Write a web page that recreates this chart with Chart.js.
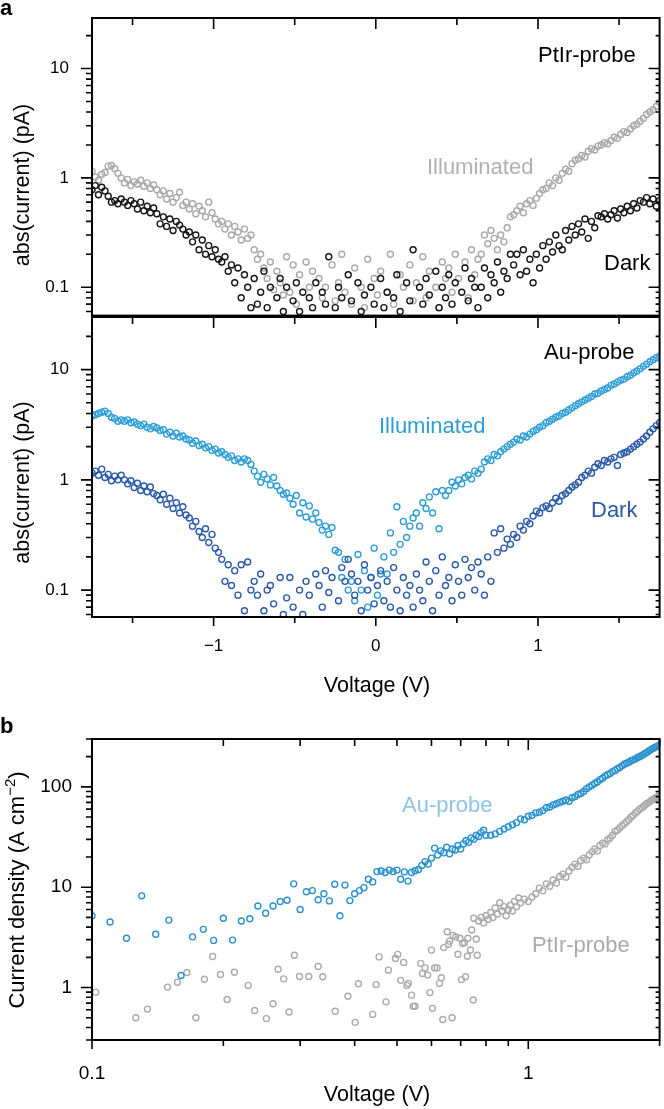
<!DOCTYPE html>
<html>
<head>
<meta charset="utf-8">
<script src="https://cdn.jsdelivr.net/npm/chart.js@4.4.1/dist/chart.umd.min.js"></script>
<style>
  html, body { margin: 0; padding: 0; background: #fff; }
  #wrap { position: relative; width: 664px; height: 1109px; overflow: hidden; }
  canvas { position: absolute; left: 0; }
</style>
</head>
<body>
<div id="wrap">
  <canvas id="panelTop" width="664" height="320" style="top:0px"></canvas>
  <canvas id="panelMid" width="664" height="400" style="top:300px"></canvas>
  <canvas id="panelB" width="664" height="409" style="top:700px"></canvas>
</div>
<script>
// ---- panel a: voltage sweep shared by both probes ----
var voltA = [
  -1.75,-1.73,-1.71,-1.69,-1.67,-1.65,-1.63,-1.61,-1.59,-1.57,
  -1.55,-1.53,-1.51,-1.49,-1.47,-1.45,-1.43,-1.41,-1.39,-1.37,
  -1.35,-1.33,-1.31,-1.29,-1.27,-1.25,-1.23,-1.21,-1.19,-1.17,
  -1.15,-1.13,-1.11,-1.09,-1.07,-1.05,-1.03,-1.01,-0.99,-0.97,
  -0.95,-0.93,-0.91,-0.89,-0.87,-0.85,-0.83,-0.81,-0.79,-0.77,
  -0.75,-0.73,-0.71,-0.69,-0.67,-0.65,-0.63,-0.61,-0.59,-0.57,
  -0.55,-0.53,-0.51,-0.49,-0.47,-0.45,-0.43,-0.41,-0.39,-0.37,
  -0.35,-0.33,-0.31,-0.29,-0.27,-0.25,-0.23,-0.21,-0.19,-0.17,
  -0.15,-0.13,-0.11,-0.09,-0.07,-0.05,-0.03,-0.01,0.01,0.03,
  0.05,0.07,0.09,0.11,0.13,0.15,0.17,0.19,0.21,0.23,
  0.25,0.27,0.29,0.31,0.33,0.35,0.37,0.39,0.41,0.43,
  0.45,0.47,0.49,0.51,0.53,0.55,0.57,0.59,0.61,0.63,
  0.65,0.67,0.69,0.71,0.73,0.75,0.77,0.79,0.81,0.83,
  0.85,0.87,0.89,0.91,0.93,0.95,0.97,0.99,1.01,1.03,
  1.05,1.07,1.09,1.11,1.13,1.15,1.17,1.19,1.21,1.23,
  1.25,1.27,1.29,1.31,1.33,1.35,1.37,1.39,1.41,1.43,
  1.45,1.47,1.49,1.51,1.53,1.55,1.57,1.59,1.61,1.63,
  1.65,1.67,1.69,1.71,1.73,1.75
];

// PtIr-probe, abs(current) in pA
var ptIllum = [
  1.15,1.02,0.95,1.08,1.12,1.28,1.3,1.22,1.1,1.0,
  0.9,0.97,0.85,0.92,0.88,0.95,0.84,0.9,0.8,0.86,
  0.78,0.7,0.76,0.64,0.72,0.6,0.66,0.74,0.56,0.6,
  0.52,0.58,0.47,0.55,0.5,0.44,0.6,0.48,0.42,0.38,
  0.4,0.34,0.38,0.3,0.36,0.32,0.27,0.34,0.28,0.3,
  0.22,0.18,0.2,0.15,0.12,0.17,0.095,0.14,0.11,0.085,
  0.19,0.09,0.16,0.07,0.13,null,0.17,0.1,0.14,null,
  0.12,0.08,0.1,null,0.16,0.075,0.11,0.2,0.09,null,
  0.07,0.15,null,0.1,0.065,0.18,null,0.12,0.085,0.14,
  null,0.09,0.2,0.07,null,0.13,0.1,null,0.16,0.075,
  0.11,null,0.19,0.08,0.14,null,0.1,0.065,0.17,0.12,
  0.15,0.09,0.2,0.12,null,0.17,0.08,0.22,0.13,0.18,
  0.2,0.3,0.25,0.33,0.28,0.22,0.3,0.26,0.35,0.44,
  0.46,0.5,0.55,0.48,0.58,0.62,0.56,0.65,0.72,0.78,
  0.8,0.9,0.85,1.0,0.95,1.1,1.2,1.15,1.35,1.45,
  1.5,1.6,1.55,1.75,1.85,1.8,1.95,2.0,2.1,2.05,
  2.2,2.35,2.3,2.5,2.65,2.6,2.8,3.0,3.1,3.3,
  3.5,3.8,4.0,4.2,4.5,4.9
];
var ptDark = [
  0.78,0.85,0.7,0.82,0.76,0.68,0.6,0.62,0.58,0.64,
  0.6,0.56,0.62,0.58,0.52,0.6,0.5,0.55,0.48,0.53,
  0.47,0.38,0.44,0.36,0.42,0.33,0.4,0.37,0.34,0.3,
  0.32,0.26,0.3,0.22,0.27,0.2,0.24,0.19,0.22,0.18,
  0.17,0.19,0.14,0.16,0.11,0.15,0.08,0.13,0.1,0.065,
  0.12,0.07,0.09,0.14,0.065,0.1,null,0.08,0.12,0.06,
  0.1,null,0.075,0.11,0.06,0.09,null,0.08,0.065,0.11,
  null,0.09,0.07,0.19,null,0.065,0.1,0.08,null,0.13,
  0.075,null,0.11,0.06,0.085,null,0.1,0.07,null,0.12,
  0.065,0.09,null,0.08,0.13,0.06,null,0.11,0.075,0.22,
  null,0.1,0.07,0.12,0.085,null,0.14,0.065,0.1,0.08,
  0.13,0.07,0.11,null,0.09,0.15,0.075,0.12,0.1,0.065,
  0.1,0.15,0.08,0.13,0.11,0.17,0.09,0.14,0.12,0.2,
  0.16,0.2,0.13,0.22,0.14,0.18,0.11,0.2,0.15,0.24,
  0.18,0.26,0.21,0.3,0.24,0.22,0.33,0.27,0.36,0.3,
  0.38,0.32,0.42,0.28,0.4,0.35,0.45,0.44,0.47,0.42,
  0.46,0.5,0.43,0.52,0.48,0.55,0.5,0.58,0.53,0.62,
  0.6,0.66,0.58,0.64,0.55,0.62
];

// Au-probe, abs(current) in pA
var auIllum = [
  3.8,3.9,4.0,4.1,4.2,4.0,3.7,3.6,3.4,3.5,
  3.4,3.5,3.3,3.35,3.2,3.1,3.2,3.0,2.9,3.05,
  2.95,2.8,2.85,2.6,2.7,2.5,2.65,2.45,2.5,2.35,
  2.3,2.15,2.25,2.05,2.1,1.95,2.0,1.85,1.9,1.75,
  1.8,1.7,1.6,1.65,1.5,1.55,1.45,1.55,1.5,1.38,
  1.2,1.08,0.95,1.12,1.02,0.9,1.05,0.88,0.8,0.74,
  0.76,0.68,0.6,0.72,0.5,0.62,0.46,0.58,0.44,0.5,
  0.41,0.35,0.38,0.32,0.37,0.23,0.22,0.13,0.19,0.1,
  0.12,0.08,0.21,0.1,0.15,0.07,0.13,0.24,0.09,0.14,
  0.2,0.14,0.33,0.22,0.57,0.26,0.42,0.3,0.38,0.45,
  0.5,0.38,0.62,0.55,0.7,0.5,0.78,0.36,0.8,0.72,
  0.8,0.95,0.88,1.0,0.92,1.05,1.1,1.02,1.2,1.15,
  1.25,1.45,1.55,1.5,1.7,1.65,1.8,1.9,2.0,2.1,
  2.2,2.35,2.3,2.5,2.45,2.6,2.75,2.85,3.0,3.1,
  3.3,3.4,3.55,3.7,3.8,4.0,4.1,4.3,4.5,4.7,
  4.9,5.1,5.3,5.5,5.7,6.0,6.1,6.4,6.6,6.8,
  7.2,7.4,7.7,8.0,8.2,8.6,8.9,9.3,9.7,10.2,
  10.7,11.2,11.8,12.3,12.8,13.2
];
var auDark = [
  1.15,1.2,1.1,1.25,1.05,1.12,0.98,1.08,1.0,1.1,
  1.0,0.92,0.98,0.85,0.93,0.8,0.88,0.78,0.86,0.75,
  0.72,0.66,0.74,0.6,0.68,0.55,0.62,0.5,0.57,0.48,
  0.45,0.38,0.42,0.34,0.3,0.36,0.27,0.32,0.24,0.22,
  0.19,0.12,0.17,0.11,0.15,0.09,0.17,0.065,0.18,0.1,
  0.12,0.09,0.14,0.065,0.1,0.11,0.075,null,0.13,0.06,
  0.085,0.13,0.07,null,0.1,0.06,0.12,0.09,null,0.14,
  0.11,0.07,0.15,0.095,0.13,null,0.08,0.16,0.12,0.19,
  0.14,0.09,0.12,0.065,0.17,0.1,0.13,0.075,0.11,0.15,
  0.08,0.12,0.07,0.16,0.1,0.065,0.13,0.09,0.11,0.07,
  0.14,0.1,0.08,0.18,0.12,0.065,0.15,0.09,0.2,0.11,
  0.13,0.08,0.17,0.12,0.09,0.19,0.13,0.16,0.1,0.18,
  0.14,0.09,0.2,0.12,0.33,0.22,0.36,0.24,0.29,0.26,
  0.32,0.3,0.38,0.35,0.42,0.4,0.47,0.52,0.5,0.56,
  0.58,0.55,0.62,0.68,0.64,0.72,0.75,0.8,0.86,0.9,
  0.95,1.05,1.1,1.2,1.15,1.3,1.4,1.35,1.5,1.45,
  1.55,1.6,1.35,1.7,1.75,1.8,1.9,2.0,2.1,2.2,
  2.35,2.5,2.7,2.9,3.1,3.3
];

// ---- panel b: current density (A cm-2) vs voltage ----
var auVoltB = [
  0.10,0.11,0.12,0.13,0.14,0.15,0.16,0.17,0.18,0.19,
  0.20,0.21,0.22,0.23,0.24,0.25,0.26,0.27,0.28,0.29,
  0.30,0.31,0.32,0.33,0.34,0.35,0.36,0.37,0.38,0.39,
  0.40,0.41,0.42,0.43,0.44,0.45,0.46,0.47,0.48,0.49,
  0.50,0.51,0.52,0.53,0.54,0.55,0.56,0.57,0.58,0.59,
  0.60,0.61,0.62,0.63,0.64,0.65,0.66,0.67,0.68,0.69,
  0.70,0.71,0.72,0.73,0.74,0.75,0.76,0.77,0.78,0.79,
  0.80,
  0.82,0.84,0.86,0.88,0.90,0.92,0.94,0.96,0.98,1.00,
  1.02,1.04,1.06,1.08,1.10,1.12,1.14,1.16,1.18,1.20,
  1.22,1.24,1.26,1.28,1.30,1.32,1.34,1.36,1.38,1.40,
  1.42,1.44,1.46,1.48,1.50,1.52,1.54,1.56,1.58,1.60,
  1.62,1.64,1.66,1.68,1.70,1.72,1.74,1.76,1.78,1.80,
  1.82,1.84,1.86,1.88,1.90,1.92,1.94,1.96,1.98,2.00
];
var auDensity = [
  5.2,4.5,3.1,8.2,3.4,4.7,1.32,3.2,3.8,2.95,
  4.9,2.97,4.6,4.85,6.5,5.5,6.5,7.2,7.4,10.8,
  6.0,9.0,9.25,7.5,8.6,7.3,10.7,5.2,10.5,7.35,
  8.6,9.25,9.9,12.0,11.3,14.3,14.5,14.0,14.8,14.3,
  14.8,12.0,14.2,11.5,14.0,14.6,15.0,16.5,18.0,17.0,
  19.5,24.5,21.0,23.0,22.0,25.0,21.5,24.0,23.5,26.0,
  24.0,27,29,28,31,30,33,32,35,37,
  33,
  33,34,36,38,40,42,44,48,47,51,
  52,55,56,58,62,63,66,68,70,72,
  74,72,78,80,84,86,90,96,100,104,
  108,112,118,122,128,132,136,142,146,152,
  156,162,168,172,176,182,186,190,196,200,
  206,212,218,224,232,238,244,250,256,262
];
var ptVoltB = [
  0.102,0.126,0.134,0.149,0.157,0.165,0.173,0.181,0.189,0.197,
  0.204,0.212,0.228,0.236,0.251,0.260,0.267,0.275,0.283,0.291,
  0.299,0.314,0.330,0.338,0.361,0.386,0.401,0.408,0.440,0.448,
  0.455,0.472,0.478,0.496,0.502,0.510,0.518,0.527,0.531,0.540,
  0.545,0.550,0.567,0.572,0.580,0.588,0.595,0.600,0.603,0.610,
  0.618,0.626,0.632,0.637,0.640,0.652,0.656,0.660,0.669,0.672,
  0.682,0.690,0.697,0.703,0.707,0.714,0.718,0.725,0.727,0.737,
  0.742,0.748,0.750,0.760,0.764,
  0.77,0.78,0.79,0.80,0.81,0.82,0.83,0.84,0.85,0.86,
  0.87,0.88,0.89,0.90,0.91,0.92,0.93,0.94,0.95,0.96,
  0.98,1.00,1.02,1.04,1.06,1.08,1.10,1.12,1.14,1.16,
  1.18,1.20,1.22,1.24,1.26,1.28,1.30,1.32,1.34,1.36,
  1.38,1.40,1.42,1.44,1.46,1.48,1.50,1.52,1.54,1.56,
  1.58,1.60,1.62,1.64,1.66,1.68,1.70,1.72,1.74,1.76,
  1.78,1.80,1.82,1.84,1.86,1.88,1.90,1.92,1.94,1.96,
  1.98,2.00
];
var ptDensity = [
  0.90,0.50,0.61,1.01,1.13,1.41,0.50,1.21,2.04,1.35,
  0.76,1.42,1.05,0.59,0.49,0.69,1.52,1.22,0.57,2.10,
  1.29,1.29,1.62,1.28,0.58,0.82,0.45,1.09,0.54,1.07,
  2.02,0.72,1.49,1.95,2.14,1.18,1.78,1.05,1.10,0.84,
  0.65,0.65,1.74,1.38,1.57,1.33,0.89,2.36,0.62,1.57,
  1.57,1.10,1.25,0.48,2.50,3.60,2.70,2.90,0.50,3.30,
  3.20,2.15,3.10,1.20,2.75,2.80,1.28,2.05,3.10,2.37,
  3.75,0.75,4.90,3.05,2.10,
  4.6,5.0,4.4,5.2,4.8,5.6,5.0,6.2,5.4,7.0,
  5.8,6.4,5.2,6.0,6.6,5.8,7.2,6.4,7.8,7.0,
  7.6,7.2,8.0,8.6,9.8,9.2,10.8,10.2,11.8,11.0,
  12.8,13.5,12.6,14.5,15.8,17.0,16.2,18.5,19.5,18.8,
  21.0,22.5,24.0,23.0,26.0,27.5,27.0,29.5,31.0,33.0,
  36.0,37.0,39.0,41.0,43.0,45.0,47.0,50.0,52.0,55.0,
  57,60,62,64,67,69,71,74,76,78,
  80,84
];

// tick values
var xMajorA = [-1, 0, 1];
var xMinorA = [-1.5, -0.5, 0.5, 1.5];
var yMajorA = [0.1, 1, 10];
var yMinorA = [0.06, 0.07, 0.08, 0.09, 0.2, 0.3, 0.4, 0.5, 0.6, 0.7, 0.8, 0.9, 2, 3, 4, 5, 6, 7, 8, 9, 20];
var xMajorB = [0.1, 1];
var xMinorB = [0.2, 0.3, 0.4, 0.5, 0.6, 0.7, 0.8, 0.9, 2];
var yMajorB = [1, 10, 100];
var yMinorB = [0.3, 0.4, 0.5, 0.6, 0.7, 0.8, 0.9, 2, 3, 4, 5, 6, 7, 8, 9, 20, 30, 40, 50, 60, 70, 80, 90, 200, 300];

var FONT = "'Liberation Sans', Arial, Helvetica, sans-serif";
Chart.defaults.font.family = FONT;

function toPoints(xs, ys) {
  return xs.map(function (v, i) { return { x: v, y: ys[i] }; });
}

function series(xs, ys, color) {
  return {
    data: toPoints(xs, ys),
    borderColor: color,
    backgroundColor: 'rgba(0,0,0,0)',
    pointRadius: 3,
    pointHoverRadius: 3,
    pointBorderWidth: 1.4,
    showLine: false,
    clip: 0
  };
}

// frame, ticks (inward on top/right, outward on left/bottom) and the text labels
var framePlugin = {
  id: 'frame',
  afterDatasetsDraw: function (chart, args, o) {
    var ctx = chart.ctx, a = chart.chartArea;
    var xs = chart.scales.x, ys = chart.scales.y;
    ctx.save();
    ctx.strokeStyle = '#000';
    ctx.lineWidth = 1.6;
    ctx.beginPath();
    function seg(x1, y1, x2, y2) { ctx.moveTo(x1, y1); ctx.lineTo(x2, y2); }
    function xTicks(vals, topLen, botLen) {
      vals.forEach(function (v) {
        var p = xs.getPixelForValue(v);
        if (topLen) seg(p, a.top, p, a.top + topLen);
        if (botLen) seg(p, a.bottom, p, a.bottom + botLen);
      });
    }
    function yTicks(vals, leftLen, rightLen) {
      vals.forEach(function (v) {
        var p = ys.getPixelForValue(v);
        if (p < a.top - 0.5 || p > a.bottom + 0.5) return;
        seg(a.left - leftLen, p, a.left, p);
        seg(a.right - rightLen, p, a.right, p);
      });
    }
    xTicks(o.xMajor, 11, o.bottomOut ? 9 : 0);
    xTicks(o.xMinor, 7, o.bottomOut ? 6 : 0);
    yTicks(o.yMajor, 11, 11);
    yTicks(o.yMinor, 6, 4);
    ctx.stroke();
    ctx.lineWidth = 2;
    ctx.strokeRect(a.left, a.top, a.right - a.left, a.bottom - a.top);

    o.texts.forEach(function (t) {
      ctx.save();
      ctx.fillStyle = t.color || '#000';
      ctx.textBaseline = 'alphabetic';
      ctx.translate(t.x, t.y);
      if (t.rotate) ctx.rotate(-Math.PI / 2);
      var parts = t.parts || [{ text: t.text, size: t.size }];
      var widths = parts.map(function (p) {
        ctx.font = (t.weight || 'normal') + ' ' + p.size + 'px ' + FONT;
        return ctx.measureText(p.text).width;
      });
      var total = widths.reduce(function (s, w) { return s + w; }, 0);
      var x0 = t.align === 'center' ? -total / 2 : 0;
      ctx.textAlign = 'left';
      parts.forEach(function (p, i) {
        ctx.font = (t.weight || 'normal') + ' ' + p.size + 'px ' + FONT;
        ctx.fillText(p.text, x0, -(p.rise || 0));
        x0 += widths[i];
      });
      ctx.restore();
    });
    ctx.restore();
  }
};

function yAxis(min, max, majors, size, pad) {
  return {
    type: 'logarithmic', position: 'left', min: min, max: max,
    afterFit: function (s) { s.width = 92; s.paddingTop = 0; s.paddingBottom = 0; },
    afterBuildTicks: function (s) { s.ticks = majors.map(function (v) { return { value: v }; }); },
    grid: { display: false, drawTicks: false },
    border: { display: false },
    ticks: { autoSkip: false, padding: pad, color: '#000', font: { size: size, family: FONT },
             callback: function (v) { return String(v); } }
  };
}

function makeChart(id, datasets, scales, padding, frame) {
  return new Chart(document.getElementById(id), {
    type: 'scatter',
    data: { datasets: datasets },
    options: {
      responsive: false,
      animation: false,
      devicePixelRatio: 1,
      layout: { padding: padding },
      plugins: { legend: { display: false }, tooltip: { enabled: false }, frame: frame },
      scales: scales
    },
    plugins: [framePlugin]
  });
}

// panel a, PtIr-probe
makeChart('panelTop',
  [series(voltA, ptDark, '#161616'), series(voltA, ptIllum, '#a9a9a9')],
  {
    x: { type: 'linear', display: false, min: -1.75, max: 1.75 },
    y: yAxis(0.055, 29, yMajorA, 17, 23)
  },
  { top: 18, right: 2, bottom: 3, left: 0 },
  {
    xMajor: xMajorA, xMinor: xMinorA, yMajor: yMajorA, yMinor: yMinorA, bottomOut: false,
    texts: [
      { text: 'a', x: 0, y: 15, size: 22, weight: 'bold' },
      { text: 'abs(current) (pA)', x: 28.5, y: 185, size: 21.5, rotate: true, align: 'center' },
      { text: 'PtIr-probe', x: 538, y: 61.5, size: 22 },
      { text: 'Illuminated', x: 427, y: 174, size: 22, color: '#b0b0b0' },
      { text: 'Dark', x: 604, y: 270, size: 22 }
    ]
  });

// panel a, Au-probe
makeChart('panelMid',
  [series(voltA, auDark, '#2a5aa8'), series(voltA, auIllum, '#2f9ed6')],
  {
    x: {
      type: 'linear', position: 'bottom', min: -1.75, max: 1.75,
      afterFit: function (s) { s.height = 83; s.paddingLeft = 0; s.paddingRight = 0; },
      afterBuildTicks: function (s) { s.ticks = xMajorA.map(function (v) { return { value: v }; }); },
      grid: { display: false, drawTicks: false },
      border: { display: false },
      ticks: { autoSkip: false, maxRotation: 0, padding: 19.5, color: '#000', font: { size: 17, family: FONT },
               callback: function (v) { return v < 0 ? '\u2212' + Math.abs(v) : String(v); } }
    },
    y: yAxis(0.057, 30, yMajorA, 17, 23)
  },
  { top: 17, right: 2, bottom: 0, left: 0 },
  {
    xMajor: xMajorA, xMinor: xMinorA, yMajor: yMajorA, yMinor: yMinorA, bottomOut: true,
    texts: [
      { text: 'abs(current) (pA)', x: 28.5, y: 182.5, size: 21.5, rotate: true, align: 'center' },
      { text: 'Au-probe', x: 544, y: 59, size: 22 },
      { text: 'Illuminated', x: 379, y: 132.5, size: 22, color: '#2f9ed6' },
      { text: 'Dark', x: 591, y: 217, size: 22, color: '#2a5aa8' },
      { text: 'Voltage (V)', x: 377, y: 392, size: 21.5, align: 'center' }
    ]
  });

// panel b
makeChart('panelB',
  [series(auVoltB, auDensity, '#2b92cf'), series(ptVoltB, ptDensity, '#ababab')],
  {
    x: {
      type: 'logarithmic', position: 'bottom', min: 0.1, max: 2,
      afterFit: function (s) { s.height = 69; s.paddingLeft = 0; s.paddingRight = 0; },
      afterBuildTicks: function (s) { s.ticks = xMajorB.map(function (v) { return { value: v }; }); },
      grid: { display: false, drawTicks: false },
      border: { display: false },
      ticks: { autoSkip: false, maxRotation: 0, padding: 22, color: '#000', font: { size: 19, family: FONT },
               callback: function (v) { return String(v); } }
    },
    y: yAxis(0.3, 300, yMajorB, 19, 20)
  },
  { top: 39, right: 2, bottom: 0, left: 0 },
  {
    xMajor: xMajorB, xMinor: xMinorB, yMajor: yMajorB, yMinor: yMinorB, bottomOut: true,
    texts: [
      { text: 'b', x: 0, y: 33, size: 22, weight: 'bold' },
      { x: 24, y: 190, rotate: true, align: 'center',
        parts: [{ text: 'Current density (A cm', size: 22 }, { text: '\u22122', size: 15, rise: 9 }, { text: ')', size: 22 }] },
      { text: 'Au-probe', x: 402, y: 111.5, size: 22, color: '#8ec5e8' },
      { text: 'PtIr-probe', x: 532, y: 252, size: 22, color: '#aaaaaa' },
      { text: 'Voltage (V)', x: 377, y: 400.5, size: 21.5, align: 'center' }
    ]
  });
</script>
</body>
</html>
